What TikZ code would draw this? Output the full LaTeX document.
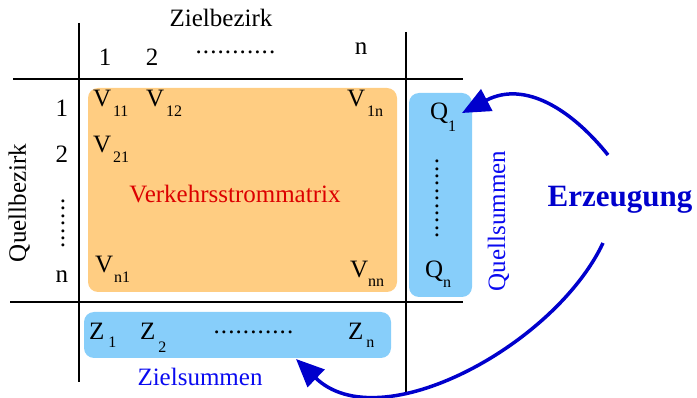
\documentclass[tikz,border=0pt]{standalone}
\usepackage{fontspec}
\setmainfont{Liberation Serif}
\usetikzlibrary{arrows.meta}
\definecolor{orangefill}{RGB}{255,205,130}
\definecolor{bluefill}{RGB}{135,206,250}
\definecolor{arrowblue}{RGB}{0,0,204}
\definecolor{textblue}{RGB}{10,10,240}
\definecolor{textred}{RGB}{220,0,0}
\newcommand\lowsub[3]{\kern#3\raisebox{-#2}{\fontsize{16}{16}\selectfont #1}}
\newcommand\dotrow[1]{\foreach \i in {1,...,#1}{.\kern1.1pt}}
\begin{document}
\begin{tikzpicture}[x=1pt,y=-1pt,
  every node/.style={inner sep=0pt, outer sep=0pt},
  lbl/.style={font=\fontsize{25}{25}\selectfont, anchor=base west},
  hdr/.style={font=\fontsize{25}{25}\selectfont, anchor=base},
  dotnode/.style={font=\fontsize{25}{25}\selectfont, anchor=center},
  box/.style={rounded corners=10pt, draw=none},
  grid/.style={line width=1.4pt, black},
  bigarrow/.style={line width=3.5pt, arrowblue, -{Triangle[length=28pt,width=24pt]}}
]
\useasboundingbox (0,0) rectangle (697,398);

% boxes
\node[box, fill=orangefill, minimum width=309pt, minimum height=204pt] (vbox) at (242.5,190) {};
\node[box, fill=bluefill, minimum width=63pt, minimum height=204pt] (qbox) at (440.5,195) {};
\node[box, fill=bluefill, minimum width=307pt, minimum height=46pt] (zbox) at (237.5,335) {};

% grid lines
\draw[grid] (79,23) -- (79,382);
\draw[grid] (406,32) -- (406,392);
\draw[grid] (13,79) -- (463,79);
\draw[grid] (10,302) -- (463,302);

% headers
\node[hdr] (zb) at (221,27) {Zielbezirk};
\node[hdr] (c1) at (105,66) {1};
\node[hdr] (c2) at (152,66) {2};
\node[dotnode] (cd) at (236,52) {\dotrow{11}};
\node[hdr] (cn) at (361,55) {n};
\node[hdr] (r1) at (62,117) {1};
\node[hdr] (r2) at (62,163) {2};
\node[dotnode, rotate=90] (rd) at (63,223) {\dotrow{7}};
\node[hdr] (rn) at (62,283) {n};
\node[hdr, rotate=90] (qb) at (26,203) {Quellbezirk};

% matrix entries
\node[lbl] (v11) at (93,107) {V\lowsub{11}{10pt}{2pt}};
\node[lbl] (v12) at (146,107) {V\lowsub{12}{10pt}{2pt}};
\node[lbl] (v1n) at (347,107) {V\lowsub{1n}{10pt}{2pt}};
\node[lbl] (v21) at (93,153) {V\lowsub{21}{10pt}{2pt}};
\node[lbl] (vn1) at (95,273) {V\lowsub{n1}{10pt}{1pt}};
\node[lbl] (vnn) at (350,278) {V\lowsub{nn}{9pt}{0pt}};
\node[font=\fontsize{25}{25}\selectfont, textred, anchor=base] (vsm) at (235,203) {Verkehrsstrommatrix};

% Q column
\node[lbl] (q1) at (430,120) {Q\lowsub{1}{12pt}{0pt}};
\node[dotnode, rotate=90] (qd) at (437,198) {\dotrow{11}};
\node[lbl] (qn) at (425,278) {Q\lowsub{n}{10pt}{0pt}};
\node[hdr, rotate=90, textblue] (qs) at (505,221) {Quellsummen};

% Z row
\node[lbl] (z1) at (89,340) {Z\lowsub{1}{8pt}{4pt}};
\node[lbl] (z2) at (140,340) {Z\lowsub{2}{13pt}{3pt}};
\node[dotnode] (zd) at (254,332) {\dotrow{11}};
\node[lbl] (zn) at (348,340) {Z\lowsub{n}{8pt}{3pt}};
\node[hdr, textblue] (zs) at (200,386) {Zielsummen};

% Erzeugung
\node[font=\fontsize{31}{31}\selectfont\bfseries, arrowblue, anchor=base] (erz) at (620,207) {Erzeugung};
\coordinate (s1) at (608,155);
\coordinate (s2) at (603,243);
\coordinate (t1) at (462,113);
\coordinate (t2) at (296,359);

\draw[bigarrow] (s1) .. controls (572,110) and (525,80) .. (t1);
\draw[bigarrow] (s2) .. controls (555,345) and (380,440) .. (t2);
\end{tikzpicture}
\end{document}
